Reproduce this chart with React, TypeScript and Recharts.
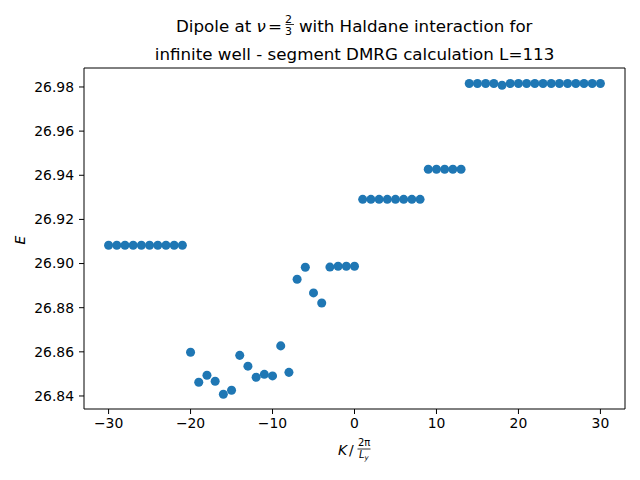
import React from "react";
import { ScatterChart, Scatter, XAxis, YAxis, ZAxis } from "recharts";

// momentum sectors K (units of 2π/L_y)
const kValues = [
  -30, -29, -28, -27, -26, -25, -24, -23, -22, -21, -20, -19, -18, -17, -16, -15,
  -14, -13, -12, -11, -10, -9, -8, -7, -6, -5, -4, -3, -2, -1, 0, 1, 2, 3, 4, 5,
  6, 7, 8, 9, 10, 11, 12, 13, 14, 15, 16, 17, 18, 19, 20, 21, 22, 23, 24, 25, 26,
  27, 28, 29, 30,
];

// one energy per K
const energies = [
  26.9083, 26.9083, 26.9083, 26.9083, 26.9083, 26.9083, 26.9083, 26.9083, 26.9083, 26.9083,
  26.8598, 26.8462, 26.8494, 26.8467, 26.8408, 26.8426, 26.8584, 26.8535, 26.8485, 26.8498,
  26.8491, 26.8627, 26.8507, 26.8929, 26.8983, 26.8867, 26.8821, 26.8984, 26.8988, 26.8988,
  26.8988, 26.9291, 26.9291, 26.9291, 26.9291, 26.9291, 26.9291, 26.9291, 26.9291, 26.9427,
  26.9427, 26.9427, 26.9427, 26.9427, 26.9816, 26.9816, 26.9816, 26.9816, 26.9808, 26.9816,
  26.9816, 26.9816, 26.9816, 26.9816, 26.9816, 26.9816, 26.9816, 26.9816, 26.9816, 26.9816,
  26.9816,
];

const xTicks = [-30, -20, -10, 0, 10, 20, 30];
const yTicks = [26.84, 26.86, 26.88, 26.9, 26.92, 26.94, 26.96, 26.98];

const FONT = "DejaVu Sans";
const tickStyle = { fontFamily: FONT, fontSize: 13.9, fill: "#000" };

// matplotlib uses a real minus sign
const fmtX = (v: number) => (v < 0 ? "\u2212" + Math.abs(v) : String(v));

export default function App(): React.ReactElement {
  const data = kValues.map((k, i) => ({ k, e: energies[i] }));

  return (
    <div style={{ position: "absolute", left: 0, top: 0, width: 640, height: 480, background: "#fff" }}>
      <ScatterChart
        width={640}
        height={480}
        margin={{ top: 67, right: 14, bottom: 41, left: 24 }}
      >
        <XAxis
          type="number"
          dataKey="k"
          domain={[-33, 33]}
          ticks={xTicks}
          allowDataOverflow
          height={30}
          tickSize={5}
          tickMargin={4}
          tick={tickStyle}
          tickFormatter={fmtX}
          stroke="#000"
        />
        <XAxis xAxisId="top" type="number" orientation="top" domain={[0, 1]} height={1} tick={false} tickLine={false} stroke="#000" />
        <YAxis
          type="number"
          dataKey="e"
          domain={[26.8341, 26.9886]}
          ticks={yTicks}
          allowDataOverflow
          width={60}
          tickSize={5}
          tickMargin={5}
          tick={tickStyle}
          tickFormatter={(v: number) => v.toFixed(2)}
          stroke="#000"
        />
        <YAxis yAxisId="right" type="number" orientation="right" domain={[0, 1]} width={1} tick={false} tickLine={false} stroke="#000" />
        <ZAxis range={[55, 55]} />
        <Scatter data={data} fill="#1f77b4" isAnimationActive={false} />
      </ScatterChart>

      <svg
        width={640}
        height={480}
        style={{ position: "absolute", left: 0, top: 0, pointerEvents: "none" }}
        fontFamily={FONT}
      >
        {/* title, line 1 with the ν = 2/3 fraction */}
        <text x={176} y={32} fontSize={16.7} fill="#000">
          Dipole at <tspan fontStyle="italic">ν</tspan>
          <tspan dx={2}>=</tspan>
          <tspan dx={3} dy={-9} fontSize={11}>2</tspan>
          <tspan dx={-7} dy={12} fontSize={11}>3</tspan>
          <tspan dx={7} dy={-3}>with Haldane interaction for</tspan>
        </text>
        <line x1={285.5} x2={294} y1={24.5} y2={24.5} stroke="#000" strokeWidth={0.8} />
        <text x={354.5} y={60} fontSize={16.7} fill="#000" textAnchor="middle">
          infinite well - segment DMRG calculation L=113
        </text>

        {/* y label */}
        <text x={25} y={240} fontSize={13.9} fontStyle="italic" textAnchor="middle" transform="rotate(-90 25 240)">
          E
        </text>

        {/* x label: K / (2π / L_y) */}
        <text x={338} y={455} fontSize={13.9} fontStyle="italic" fill="#000">K</text>
        <text x={349} y={455} fontSize={13.9} fill="#000">/</text>
        <text x={358} y={446} fontSize={10} fill="#000">2π</text>
        <line x1={357.5} x2={370.5} y1={449} y2={449} stroke="#000" strokeWidth={0.8} />
        <text x={359} y={458} fontSize={10} fontStyle="italic" fill="#000">
          L<tspan fontSize={7} dy={2}>y</tspan>
        </text>
      </svg>
    </div>
  );
}
